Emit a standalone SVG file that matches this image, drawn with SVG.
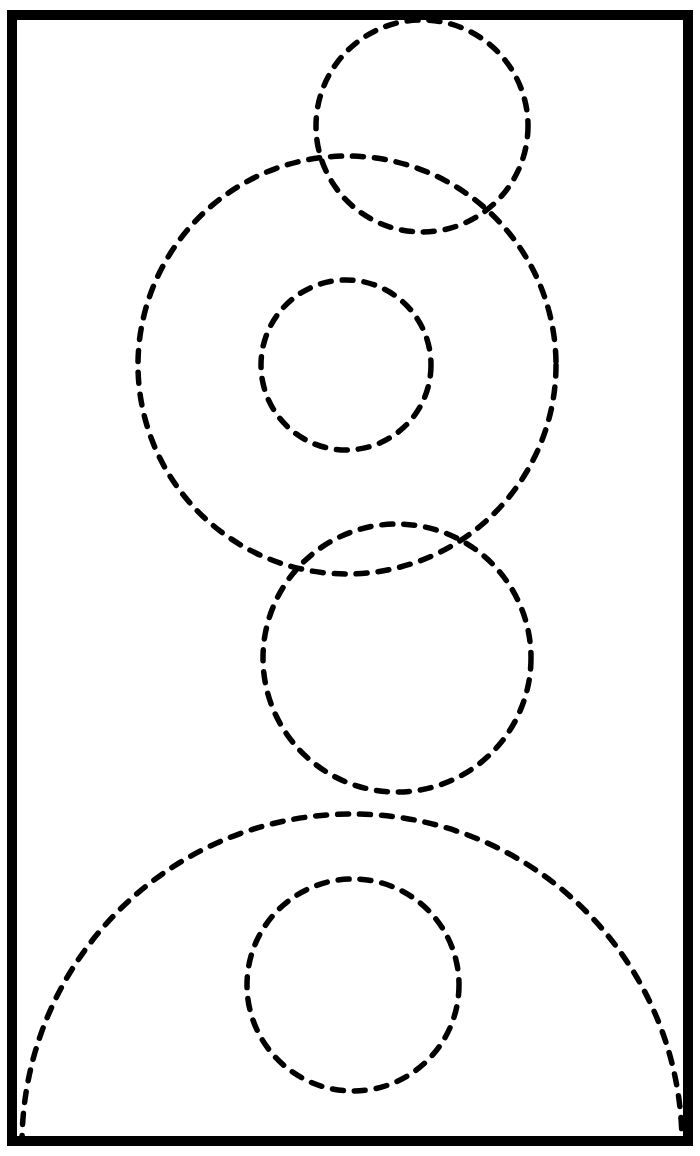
<svg xmlns="http://www.w3.org/2000/svg" width="700" height="1156" viewBox="0 0 700 1156">
<style>
.d{fill:none;stroke:#000;stroke-width:5.5;stroke-dasharray:11 11;stroke-linecap:round}
.frame{fill:none;stroke:#000;stroke-width:10}
</style>
<defs>
<clipPath id="inside"><rect x="17" y="20" width="666" height="1116"/></clipPath>
</defs>
<rect width="700" height="1156" fill="#fff"/>
<g id="top-circle"><circle class="d" cx="422" cy="126" r="106"/></g>
<g id="big-circle"><circle class="d" cx="347" cy="365" r="209"/></g>
<g id="inner-circle"><circle class="d" cx="346" cy="365" r="85"/></g>
<g id="middle-circle"><circle class="d" cx="397" cy="658" r="134"/></g>
<g id="bottom-arc" clip-path="url(#inside)"><circle class="d" cx="352" cy="1144" r="330"/></g>
<g id="bottom-inner-circle"><circle class="d" cx="353" cy="985" r="106"/></g>
<g id="frame"><rect class="frame" x="12" y="15" width="676" height="1126"/></g>
</svg>
